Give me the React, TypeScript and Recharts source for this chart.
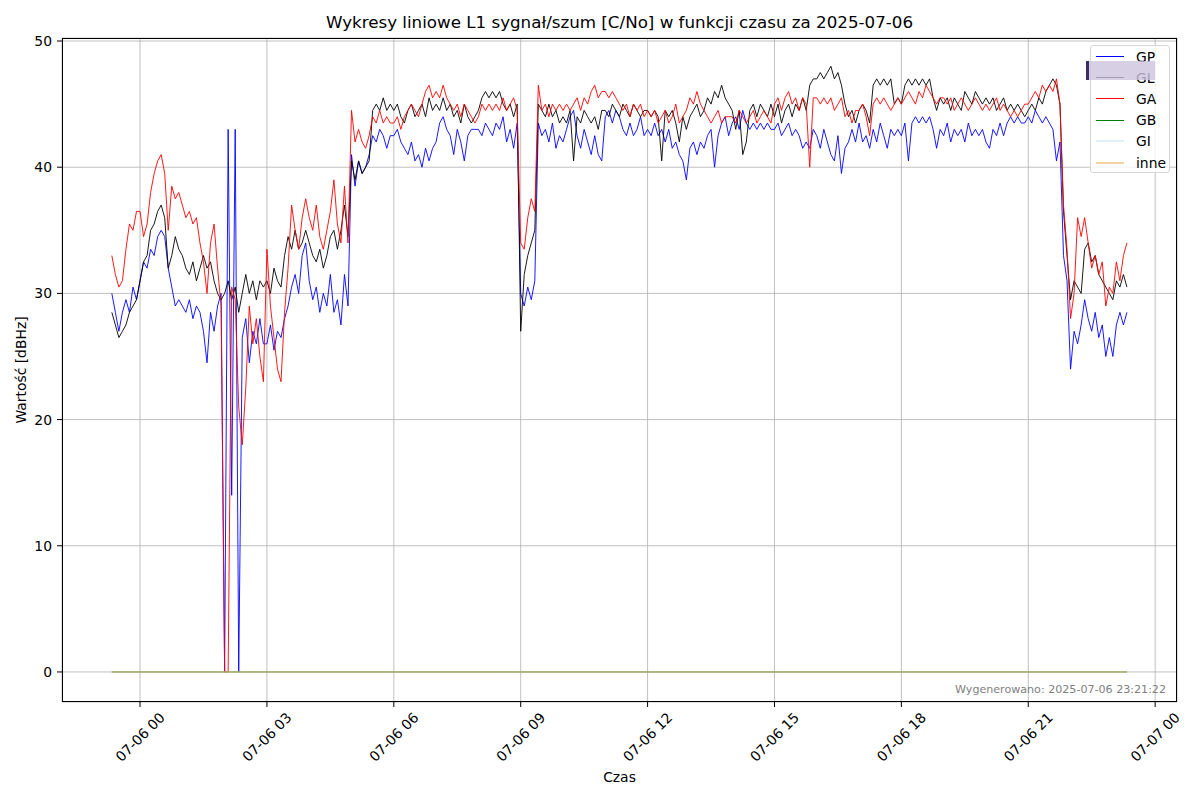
import React from "react";
import { LineChart, Line, XAxis, YAxis, CartesianGrid } from "recharts";

const FONT = "'DejaVu Sans', Verdana, sans-serif";

// czas w minutach od 2025-07-06 00:00, próbka co 5 minut
const START_MIN = -40;
const STEP_MIN = 5;

// GP (niebieski), po jednym wierszu na godzinę
const gpValues = [
  30, 28.5, 27, 28.5, 29.5, 28.5, 30.5, 29.5,
  31, 32.5, 32, 33.5, 33, 34.5, 35, 34.5, 32, 30.5, 29, 29.5,
  29, 28.5, 29.5, 28, 29, 28.5, 27, 24.5, 28.5, 27, 29, 30,
  0, 43, 14, 43, 0, 26.5, 28, 24.5, 27, 26, 28, 26,
  26, 27.5, 25.5, 27, 26.5, 28, 29, 30.5, 31.5, 30, 33, 34,
  31, 29.5, 30.5, 28.5, 30, 29, 31.5, 28.5, 29.5, 27.5, 31.5, 29,
  41, 38.5, 40.5, 39.5, 40, 41, 42.5, 42, 43, 42.5, 41.5, 42.5,
  42.5, 43, 42, 41.5, 41, 42, 40.5, 41, 40, 41.5, 40.5, 41.5,
  42, 43.5, 44, 43, 42.5, 41, 43, 42, 40.5, 42.5, 43, 43,
  43, 42.5, 43.5, 43, 42.5, 43.5, 43, 44, 42, 43, 41.5, 43.5,
  30, 29, 30.5, 29.5, 31, 43.5, 42.5, 43, 42, 43.5, 41.5, 42.5,
  42, 43, 44, 44.5, 42.5, 41.5, 43, 42, 41, 42.5, 41, 40.5,
  44, 44.5, 43.5, 44.5, 44, 43, 42.5, 43.5, 42.5, 43, 44, 42.5,
  43, 42.5, 43.5, 42.5, 43, 42, 43, 41.5, 42, 41, 40.5, 39,
  41.5, 42, 41, 42, 41.5, 42.5, 43, 40, 42.5, 43.5, 44, 42.5,
  43.5, 44, 43, 44.5, 43.5, 43, 43.5, 43, 43.5, 43, 43.5, 43,
  43, 43.5, 42.5, 43, 43.5, 42.5, 43, 42.5, 41.5, 42, 41.5, 43,
  42.5, 41.5, 43, 42, 41, 40.5, 42.5, 39.5, 41.5, 42, 43, 42,
  43.5, 42, 42.5, 41.5, 43, 42, 43.5, 42.5, 41.5, 43, 42.5, 43,
  42.5, 43.5, 40.5, 43.5, 44, 43.5, 44, 43.5, 44, 43, 41.5, 43,
  42.5, 43.5, 42, 43, 42.5, 43, 42, 43.5, 42.5, 43, 42.5, 43,
  42, 41.5, 43, 42.5, 43.5, 42.5, 43.5, 44, 43.5, 44, 43.5, 43.5,
  44, 43.5, 44.5, 44, 43.5, 44, 43.5, 43, 40.5, 42, 33, 31,
  24, 27, 26, 27.5, 29.5, 28, 27, 28.5, 26.5, 27.5, 25, 26.5,
  25, 27.5, 28.5, 27.5, 28.5,
];

// GL (czarny)
const glValues = [
  28.5, 27.5, 26.5, 27, 27.5, 28.5, 29, 29.5,
  31, 32.5, 33, 35, 35.5, 36.5, 37, 36, 32, 33, 34.5, 33.5,
  33, 32, 31.5, 32.5, 31, 32, 33, 32, 32.5, 31, 30, 29.5,
  30, 31, 29.5, 30.5, 28.5, 30, 31.5, 30, 31, 29.5, 31, 30.5,
  31, 30, 32, 31, 30.5, 33, 34.5, 33.5, 35, 33.5, 34, 35,
  34, 33, 32.5, 33.5, 32, 33, 34.5, 35, 33.5, 35, 37, 34.5,
  40.5, 39, 40.5, 39.5, 40, 40.5, 44.5, 45, 44.5, 45.5, 44.5, 45,
  44.5, 45, 44, 43.5, 44.5, 45, 44, 44.5, 45, 44, 45.5, 44.5,
  45, 44.5, 45.5, 44.5, 45, 44, 44.5, 43.5, 45, 44, 43.5, 44,
  44.5, 45.5, 46, 45.5, 46, 45.5, 46, 45, 44.5, 45, 44, 45,
  27, 31.5, 33, 34, 35, 45, 44.5, 44, 45, 44, 44.5, 43.5,
  44, 43.5, 44.5, 40.5, 44, 43.5, 44.5, 44, 43.5, 44, 43, 44.5,
  44.5, 44, 45, 44.5, 44, 45, 44.5, 44, 45, 44.5, 44, 44.5,
  44.5, 44, 44.5, 44, 40.5, 44.5, 44, 44.5, 43.5, 42, 44, 43,
  44, 44.5, 45, 44, 44.5, 45.5, 45, 46, 45.5, 46.5, 45.5, 45,
  44.5, 43, 44.5, 41, 42, 44.5, 45, 44, 45, 44.5, 44, 45,
  44, 45, 43.5, 44.5, 45, 44, 45, 44.5, 45.5, 44.5, 46.5, 47,
  47, 47.5, 47, 47.5, 48, 47, 47.5, 46.5, 45, 44, 44.5, 43.5,
  44.5, 45, 44.5, 43.5, 46.5, 47, 46.5, 47, 46.5, 47, 45, 45.5,
  45, 46.5, 47, 46.5, 47, 46.5, 47, 46.5, 47, 45.5, 44.5, 45.5,
  45, 45.5, 44.5, 45.5, 45, 44.5, 46, 45.5, 45, 46, 45.5, 45,
  45.5, 45, 45.5, 44.5, 45, 45.5, 44.5, 45, 44.5, 45, 44.5, 44,
  44.5, 45, 44.5, 45.5, 45, 46, 46.5, 47, 46.5, 45, 36.5, 33,
  29.5, 31, 30.5, 30, 33.5, 34, 32.5, 33, 31.5, 31, 30.5, 30,
  29.5, 31, 30.5, 31.5, 30.5,
];

// GA (czerwony)
const gaValues = [
  33, 31.5, 30.5, 31, 33.5, 35.5, 35, 36.5,
  36.5, 34.5, 35.5, 38, 39.5, 40.5, 41, 39.5, 35, 38.5, 37.5, 38,
  37, 36, 36.5, 35.5, 36, 34, 32.5, 30, 34, 35.5, 32, 29,
  0, 0, 30.5, 29.5, 21, 18, 22.5, 29, 26, 28, 25, 23,
  33.5, 29, 26.5, 24, 23, 28.5, 32, 37, 35, 33.5, 36, 37.5,
  36, 35, 37, 34.5, 33.5, 35, 36.5, 39, 35.5, 34, 38.5, 34,
  44.5, 42, 43, 42, 41.5, 42.5, 44, 43.5, 44.5, 43.5, 44, 43.5,
  43.5, 44, 43, 44, 44.5, 45, 44.5, 44, 45, 46, 46.5, 45.5,
  46, 45.5, 46.5, 45.5, 45, 44.5, 45, 44, 45, 44.5, 44, 43.5,
  44, 45, 44.5, 45, 44.5, 45, 44.5, 45.5, 44.5, 45, 45.5, 44.5,
  34, 33.5, 36, 37.5, 36.5, 46.5, 44.5, 45, 44, 45, 44.5, 45,
  44.5, 45, 44.5, 45, 45.5, 44.5, 45.5, 45, 46, 46.5, 45.5, 46,
  46, 45.5, 46, 45.5, 45, 44.5, 45, 44, 45, 44.5, 45, 44,
  44.5, 44, 44.5, 43.5, 44, 44.5, 43.5, 44, 45, 43.5, 44, 44.5,
  45.5, 45, 46, 45, 44.5, 44, 43.5, 44, 44.5, 43.5, 44, 44,
  44, 43.5, 44.5, 44, 43.5, 44, 44.5, 43.5, 44, 44.5, 44, 43.5,
  45, 45.5, 44.5, 45.5, 46, 45, 45.5, 44.5, 45.5, 45, 40, 45.5,
  45.5, 45, 45.5, 45, 45.5, 44.5, 45, 45.5, 44, 44.5, 43.5, 44.5,
  44.5, 45, 44, 42.5, 45, 45.5, 45, 45.5, 45, 44.5, 45, 45.5,
  45, 45.5, 46, 45.5, 45, 46, 45.5, 46.5, 46, 45.5, 45, 45.5,
  45.5, 45, 45.5, 44.5, 45, 45.5, 45, 44.5, 45, 45.5, 45, 44.5,
  45, 44.5, 45, 45.5, 44.5, 45, 44.5, 44, 44.5, 44, 44.5, 45,
  45, 45.5, 46, 45.5, 46.5, 46, 46.5, 46, 47, 45, 37, 33.5,
  28, 30, 36, 34.5, 36, 34, 32, 33, 31.5, 32.5, 29, 30.5,
  30, 32.5, 31, 33, 34,
];

// GB, GI i inne leżą na zerze przez cały zakres
const zeroSpan = [-40, 1400];
const gbValues = [0, 0];
const giValues = [0, 0];
const inneValues = [0, 0];

const xTicks = [0, 180, 360, 540, 720, 900, 1080, 1260, 1440];
const yTicks = [0, 10, 20, 30, 40, 50];

const rows = gpValues.map((v, i) => ({
  t: START_MIN + i * STEP_MIN,
  GP: v,
  GL: glValues[i],
  GA: gaValues[i],
}));

const zeroRows = (vals: number[]) => zeroSpan.map((t, i) => ({ t, v: vals[i] }));

const series = [
  { name: "GP", key: "GP", color: "#0000ff", width: 0.9, opacity: 1, data: null },
  { name: "GL", key: "GL", color: "#000000", width: 0.9, opacity: 1, data: null },
  { name: "GA", key: "GA", color: "#ff0000", width: 0.9, opacity: 1, data: null },
  { name: "GB", key: "v", color: "#008000", width: 0.9, opacity: 1, data: zeroRows(gbValues) },
  { name: "GI", key: "v", color: "#add8e6", width: 1.5, opacity: 0.4, data: zeroRows(giValues) },
  { name: "inne", key: "v", color: "#e8b060", width: 1.5, opacity: 0.55, data: zeroRows(inneValues) },
];

const fmtTick = (m: number) => {
  const day = m >= 1440 ? "07-07" : "07-06";
  const hh = String(Math.floor((m % 1440) / 60)).padStart(2, "0");
  return `${day} ${hh}`;
};

function TimeTick(props: any) {
  const { x, y, payload } = props;
  return (
    <g transform={`translate(${x},${y + 28})`}>
      <text
        transform="rotate(-45)"
        textAnchor="middle"
        dominantBaseline="central"
        fontSize={13.9}
        fontFamily={FONT}
        fill="#000"
      >
        {fmtTick(payload.value)}
      </text>
    </g>
  );
}

export default function App() {
  return (
    <div style={{ position: "absolute", left: 0, top: 0, width: 1200, height: 800, background: "#fff", fontFamily: FONT }}>
      <LineChart width={1200} height={800} data={rows} margin={{ top: 38, right: 23, bottom: 18, left: 0 }}>
        <CartesianGrid stroke="#b0b0b0" strokeWidth={0.8} />
        <XAxis
          dataKey="t"
          type="number"
          domain={[-110.7, 1471]}
          allowDataOverflow
          ticks={xTicks}
          interval={0}
          height={80}
          axisLine={false}
          tickLine={{ stroke: "#000" }}
          tickSize={5}
          tick={<TimeTick />}
        />
        <YAxis
          type="number"
          domain={[-2.38, 50.24]}
          allowDataOverflow
          ticks={yTicks}
          interval={0}
          width={62}
          axisLine={false}
          tickLine={{ stroke: "#000" }}
          tickSize={5}
          tickMargin={5}
          tick={{ fill: "#000", fontSize: 13.9, fontFamily: FONT }}
        />
        {series.map((s) => (
          <Line
            key={s.name}
            name={s.name}
            data={s.data ?? undefined}
            dataKey={s.key}
            type="linear"
            stroke={s.color}
            strokeWidth={s.width}
            strokeOpacity={s.opacity}
            dot={false}
            activeDot={false}
            isAnimationActive={false}
          />
        ))}
      </LineChart>

      {/* ramka osi */}
      <div style={{ position: "absolute", left: 62, top: 38, width: 1115, height: 664, border: "1px solid #000", boxSizing: "border-box", pointerEvents: "none" }} />

      <div style={{ position: "absolute", left: 619.5, top: 22, transform: "translate(-50%,-50%)", whiteSpace: "nowrap", fontSize: 16.7 }}>
        Wykresy liniowe L1 sygnał/szum [C/No] w funkcji czasu za 2025-07-06
      </div>
      <div style={{ position: "absolute", left: 619.5, top: 777, transform: "translate(-50%,-50%)", fontSize: 13.9 }}>Czas</div>
      <div style={{ position: "absolute", left: 21, top: 370, transform: "translate(-50%,-50%) rotate(-90deg)", whiteSpace: "nowrap", fontSize: 13.9 }}>
        Wartość [dBHz]
      </div>
      <div style={{ position: "absolute", right: 1200 - 1166, top: 689, transform: "translateY(-50%)", whiteSpace: "nowrap", fontSize: 11.1, color: "#808080" }}>
        Wygenerowano: 2025-07-06 23:21:22
      </div>

      {/* legenda */}
      <div style={{ position: "absolute", left: 1090, top: 45, width: 80, height: 128, border: "1px solid #d6d6d6", borderRadius: 3, background: "rgba(255,255,255,0.8)", boxSizing: "border-box" }}>
        {series.map((s, i) => {
          const h = s.width > 1 ? 2 : 1;
          return (
            <div key={s.name} style={{ position: "absolute", left: 0, top: i * 21.2, height: 21, width: 80 }}>
              <div style={{ position: "absolute", left: 5, top: 10 - (h - 1) / 2, width: 28, height: h, background: s.color, opacity: s.opacity }} />
              <div style={{ position: "absolute", left: 45, top: 10.5, transform: "translateY(-50%)", fontSize: 13.9, whiteSpace: "nowrap" }}>{s.name}</div>
            </div>
          );
        })}
      </div>
      <div style={{ position: "absolute", left: 1086, top: 61, width: 69, height: 19, background: "rgba(205,196,222,0.8)", borderLeft: "3px solid #3d2b63", boxSizing: "border-box" }} />
    </div>
  );
}
